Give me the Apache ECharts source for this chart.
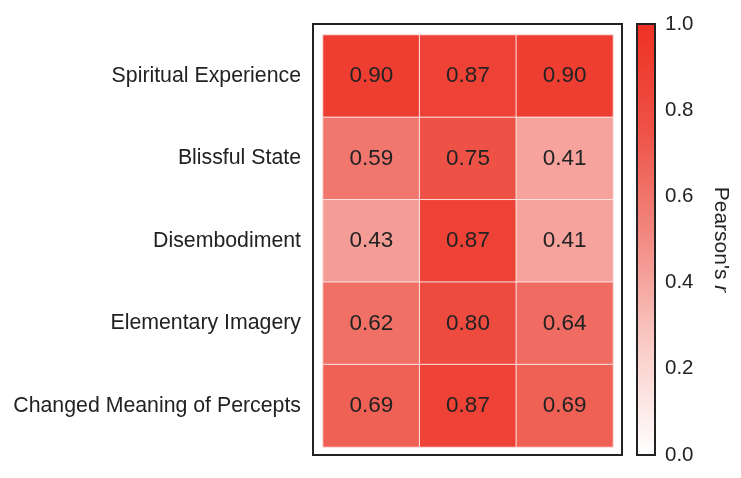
<!DOCTYPE html>
<html>
<head>
<meta charset="utf-8">
<script src="https://cdn.jsdelivr.net/npm/echarts@6/dist/echarts.min.js"></script>
<style>
html,body{margin:0;padding:0;background:#fff;}
#c{width:741px;height:478px;}
</style>
</head>
<body>
<div id="c"></div>
<script>
const rowLabels = ['Spiritual Experience', 'Blissful State', 'Disembodiment', 'Elementary Imagery', 'Changed Meaning of Percepts'];
const colLabels = ['A', 'B', 'C'];
const values = [
  [0.90, 0.87, 0.90],
  [0.59, 0.75, 0.41],
  [0.43, 0.87, 0.41],
  [0.62, 0.80, 0.64],
  [0.69, 0.87, 0.69]
];
const colorbarTicks = [0.0, 0.2, 0.4, 0.6, 0.8, 1.0];

const data = [];
values.forEach((row, r) => row.forEach((v, c) => data.push([c, r, v])));

const chart = echarts.init(document.getElementById('c'));
const font = 'Liberation Sans, Arial, sans-serif';
chart.setOption({
  animation: false,
  backgroundColor: '#fff',
  textStyle: { fontFamily: font },
  grid: [
    { left: 323, top: 35, width: 290, height: 412 },
    { left: 637, top: 24, width: 18, height: 431, show: true, z: 10, borderColor: '#222', borderWidth: 2, backgroundColor: 'transparent' }
  ],
  xAxis: [
    { type: 'category', data: colLabels, gridIndex: 0, show: false },
    { type: 'value', gridIndex: 1, show: false, min: 0, max: 1 }
  ],
  yAxis: [
    {
      type: 'category', data: rowLabels, gridIndex: 0, inverse: true,
      axisLine: { show: false }, axisTick: { show: false }, splitLine: { show: false },
      axisLabel: { color: '#222', fontSize: 21.3, margin: 22, fontFamily: font, padding: [3, 0, 0, 0] }
    },
    {
      type: 'value', gridIndex: 1, position: 'right', min: 0, max: 1, interval: 0.2,
      axisLine: { show: false }, axisTick: { show: false }, splitLine: { show: false },
      axisLabel: { color: '#222', fontSize: 20.5, margin: 10, fontFamily: font, padding: [6, 0, 0, 0], formatter: v => colorbarTicks.includes(+v.toFixed(1)) ? v.toFixed(1) : '' },
      name: "Pearson's {i|r}", nameLocation: 'middle', nameRotate: -90, nameGap: 55,
      nameTextStyle: { color: '#222', fontSize: 21, fontFamily: font, rich: { i: { fontStyle: 'italic', fontSize: 21, fontFamily: font, color: '#222' } } }
    }
  ],
  visualMap: {
    type: 'continuous', min: 0, max: 1, seriesIndex: 0, calculable: false,
    left: 637, top: 24, itemWidth: 18, itemHeight: 431, padding: 0,
    inRange: { color: ['#ffffff', '#FACDC8', '#F28B83', '#EE5247', '#EE3124'] },
    hoverLink: false
  },
  graphic: [
    { type: 'rect', shape: { x: 313, y: 24, width: 309, height: 431 }, style: { fill: 'none', stroke: '#222', lineWidth: 2 }, z: 100 }
  ],
  series: [{
    type: 'heatmap', xAxisIndex: 0, yAxisIndex: 0, data: data,
    itemStyle: { borderColor: '#fbe3e1', borderWidth: 1 },
    label: { show: true, color: '#222', fontSize: 22.5, fontFamily: font, formatter: p => p.value[2].toFixed(2) },
    emphasis: { disabled: true }
  }]
});
</script>
</body>
</html>
